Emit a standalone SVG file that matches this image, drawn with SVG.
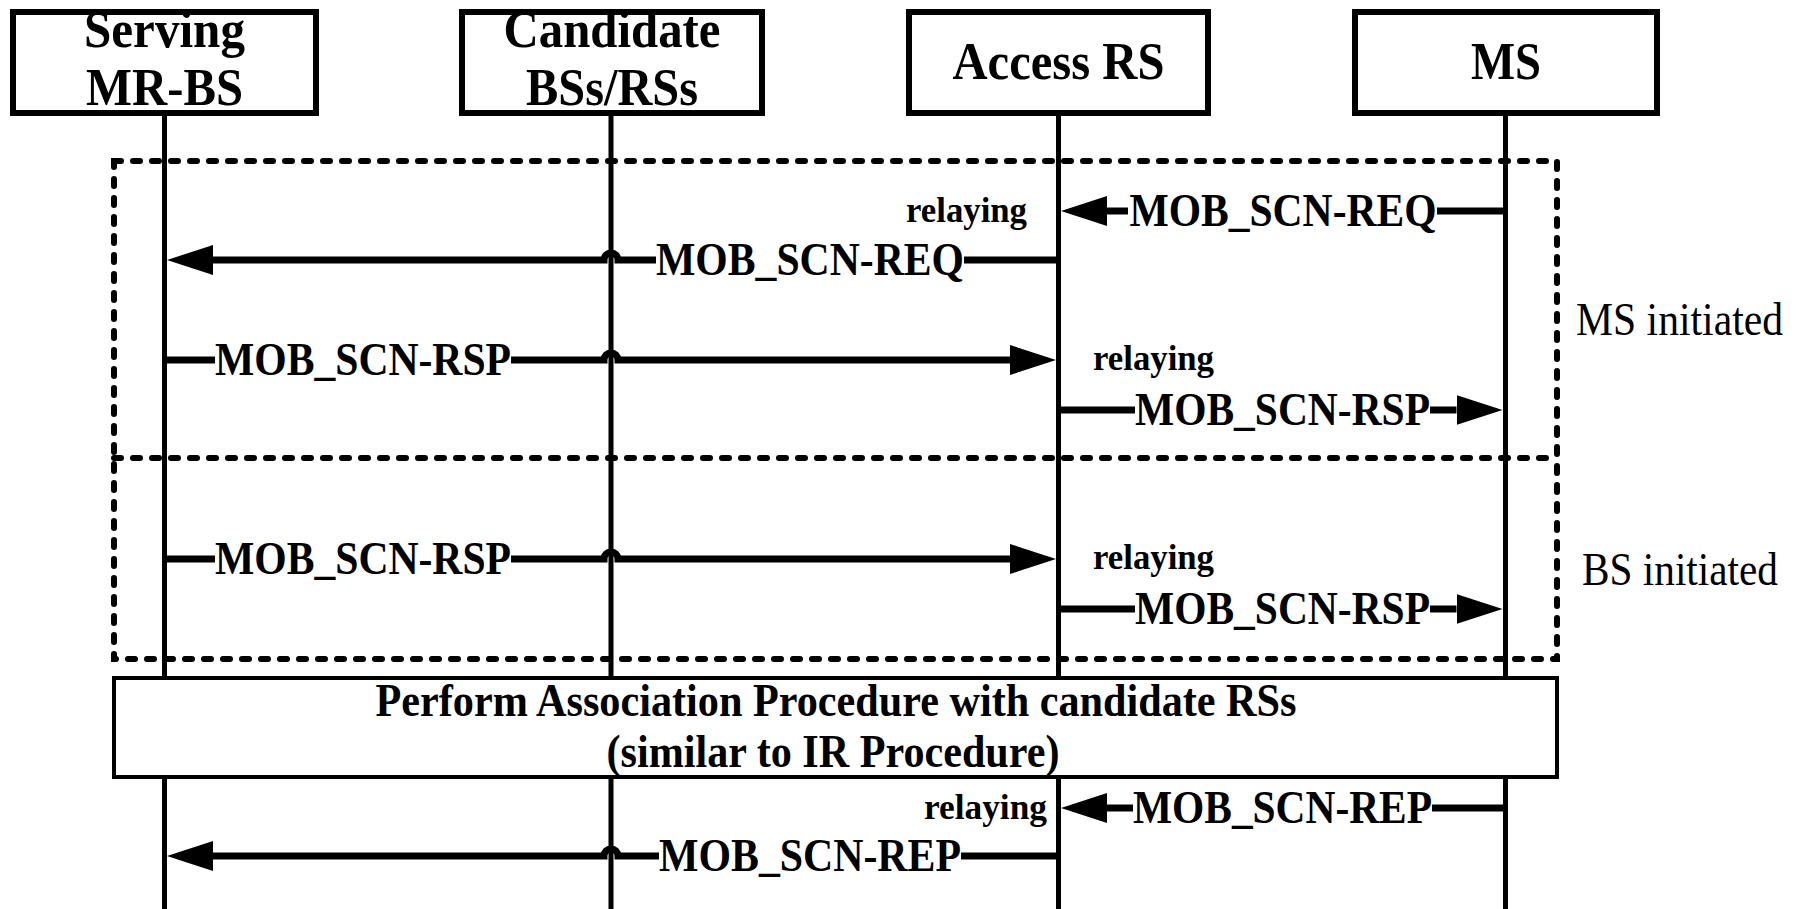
<svg xmlns="http://www.w3.org/2000/svg" width="1804" height="909" viewBox="0 0 1804 909">
<style>
.hdr{font-family:"Liberation Serif","Times New Roman",serif;font-weight:bold;font-size:53px;text-anchor:middle;fill:#000}
.msg{font-family:"Liberation Serif","Times New Roman",serif;font-weight:bold;font-size:46px;text-anchor:middle;fill:#000}
.rel{font-family:"Liberation Serif","Times New Roman",serif;font-weight:bold;font-size:36px;fill:#000}
.side{font-family:"Liberation Serif","Times New Roman",serif;font-size:46px;fill:#000}
.box{fill:#fff;stroke:#000;stroke-width:6}
.life{stroke:#000;stroke-width:5;fill:none}
.line{stroke:#000;stroke-width:7;fill:none}
.dots{stroke:#000;stroke-width:6;fill:none;stroke-dasharray:7 12;stroke-linecap:round}
</style>
<defs>
<marker id="ah" markerUnits="userSpaceOnUse" markerWidth="46" markerHeight="30" refX="0" refY="15" orient="auto">
<path d="M0,0 L46,15 L0,30 z" fill="#000"/>
</marker>
</defs>
<rect width="1804" height="909" fill="#fff"/>
<g id="lifelines">
<line class="life" x1="164.5" y1="113" x2="164.5" y2="909"/>
<line class="life" x1="611" y1="113" x2="611" y2="909"/>
<line class="life" x1="1058.5" y1="113" x2="1058.5" y2="909"/>
<line class="life" x1="1505.5" y1="113" x2="1505.5" y2="909"/>
</g>
<g id="node-serving">
<rect class="box" x="13" y="12" width="303" height="101"/>
<text class="hdr" x="164.5" y="47" textLength="161" lengthAdjust="spacingAndGlyphs">Serving</text>
<text class="hdr" x="164.5" y="105" textLength="157" lengthAdjust="spacingAndGlyphs">MR-BS</text>
</g>
<g id="node-candidate">
<rect class="box" x="462" y="12" width="300" height="101"/>
<text class="hdr" x="612" y="47" textLength="217" lengthAdjust="spacingAndGlyphs">Candidate</text>
<text class="hdr" x="612" y="105" textLength="172" lengthAdjust="spacingAndGlyphs">BSs/RSs</text>
</g>
<g id="node-access">
<rect class="box" x="909" y="12" width="299" height="101"/>
<text class="hdr" x="1058.5" y="79" textLength="212" lengthAdjust="spacingAndGlyphs">Access RS</text>
</g>
<g id="node-ms">
<rect class="box" x="1355" y="12" width="302" height="101"/>
<text class="hdr" x="1506" y="79" textLength="70" lengthAdjust="spacingAndGlyphs">MS</text>
</g>
<g id="frames">
<rect class="dots" x="114" y="161" width="1443" height="498"/>
<line class="dots" x1="114" y1="458" x2="1557" y2="458"/>
<text class="side" x="1576" y="335" textLength="207" lengthAdjust="spacingAndGlyphs">MS initiated</text>
<text class="side" x="1582" y="585" textLength="196" lengthAdjust="spacingAndGlyphs">BS initiated</text>
</g>
<g id="node-association">
<rect x="114" y="678" width="1443" height="99" fill="#fff" stroke="#000" stroke-width="4"/>
<text class="msg" x="836" y="716" textLength="921" lengthAdjust="spacingAndGlyphs">Perform Association Procedure with candidate RSs</text>
<text class="msg" x="833" y="767" textLength="453" lengthAdjust="spacingAndGlyphs">(similar to IR Procedure)</text>
</g>
<g id="connectors">
<path class="line" d="M1505 211 H1437"/>
<path class="line" d="M1128 211 H1107" marker-end="url(#ah)"/>
<text class="msg" x="1283" y="226" textLength="307" lengthAdjust="spacingAndGlyphs">MOB_SCN-REQ</text>
<text class="rel" x="1027" y="222" text-anchor="end" textLength="121" lengthAdjust="spacingAndGlyphs">relaying</text>

<path class="line" d="M1058 260 H964"/>
<path class="line" d="M656 260 H618 A7 7 0 0 0 604 260 H213" marker-end="url(#ah)"/>
<text class="msg" x="810" y="275" textLength="308" lengthAdjust="spacingAndGlyphs">MOB_SCN-REQ</text>

<path class="line" d="M164 360 H215"/>
<path class="line" d="M511 360 H604 A7 7 0 0 1 618 360 H1010" marker-end="url(#ah)"/>
<text class="msg" x="363" y="375" textLength="296" lengthAdjust="spacingAndGlyphs">MOB_SCN-RSP</text>
<text class="rel" x="1093" y="370" textLength="121" lengthAdjust="spacingAndGlyphs">relaying</text>

<path class="line" d="M1058 410 H1135"/>
<path class="line" d="M1430 410 H1456.5" marker-end="url(#ah)"/>
<text class="msg" x="1282.5" y="425" textLength="295" lengthAdjust="spacingAndGlyphs">MOB_SCN-RSP</text>

<path class="line" d="M164 559 H215"/>
<path class="line" d="M511 559 H604 A7 7 0 0 1 618 559 H1010" marker-end="url(#ah)"/>
<text class="msg" x="363" y="574" textLength="296" lengthAdjust="spacingAndGlyphs">MOB_SCN-RSP</text>
<text class="rel" x="1093" y="569" textLength="121" lengthAdjust="spacingAndGlyphs">relaying</text>

<path class="line" d="M1058 609 H1135"/>
<path class="line" d="M1430 609 H1456.5" marker-end="url(#ah)"/>
<text class="msg" x="1282.5" y="624" textLength="295" lengthAdjust="spacingAndGlyphs">MOB_SCN-RSP</text>

<path class="line" d="M1505 808 H1432"/>
<path class="line" d="M1133 808 H1107" marker-end="url(#ah)"/>
<text class="msg" x="1282.5" y="823" textLength="299" lengthAdjust="spacingAndGlyphs">MOB_SCN-REP</text>
<text class="rel" x="1047" y="819" text-anchor="end" textLength="123" lengthAdjust="spacingAndGlyphs">relaying</text>

<path class="line" d="M1058 856 H961"/>
<path class="line" d="M659 856 H618 A7 7 0 0 0 604 856 H213" marker-end="url(#ah)"/>
<text class="msg" x="810" y="871" textLength="302" lengthAdjust="spacingAndGlyphs">MOB_SCN-REP</text>
</g>
</svg>
